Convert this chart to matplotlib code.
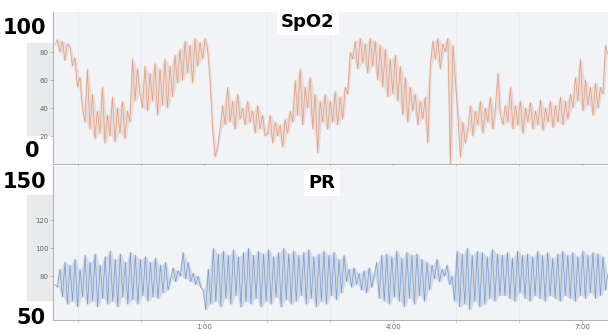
import matplotlib.pyplot as plt
from matplotlib.patches import Rectangle
import numpy as np

# SpO2 trace (%)
spo2 = [85, 89, 80, 88, 74, 86,
        84, 70, 76, 55, 62, 40,
        30, 68, 25, 50, 18, 38, 22, 55, 15, 35, 20, 48, 16, 40, 22, 45, 18, 38,
        30, 75, 45, 68, 50,
        40, 70, 38, 65, 45, 72, 35, 68, 42, 75, 40, 70, 48, 78,
        58, 82, 60, 88, 65, 85, 58, 90, 70, 87, 75, 90, 82,
        60, 25, 5, 12,
        25, 42, 28, 55, 30, 45, 25, 50, 32, 40, 28, 45, 30, 38, 22, 42, 25, 35, 20,
        22, 35, 15, 30, 20, 28, 12, 32, 22, 38,
        30, 60, 35, 68, 28, 55, 40, 62, 25, 50, 8, 45, 30, 50, 25, 45, 30, 52, 28, 48, 32, 55,
        50, 80,
        75, 88, 68, 90, 72, 86, 65, 90, 70, 88, 60, 85,
        55, 82, 48, 75, 50, 78, 45, 70,
        35, 62, 30, 55, 38, 50, 28, 45, 32, 48, 15,
        70, 88, 75, 90, 68, 86, 80, 90, 0, 85,
        60, 35, 5, 30, 15,
        25, 42, 20, 38, 28, 45, 22, 40, 30, 48, 25, 40, 65, 35, 28, 42,
        30, 55, 25, 42, 28, 45, 22, 40, 30, 44, 25, 38, 28, 46, 24, 40, 30, 45, 26, 42,
        30, 48, 28, 45, 32, 50,
        40, 62, 45, 75, 38, 60, 42, 55, 35, 58, 40, 55,
        50, 85, 78]

# pulse rate trace (bpm)
pr = [74, 72, 85, 65,
      90, 60, 88, 62, 92, 58, 85, 65, 95, 60, 90, 62, 96, 58, 88, 64, 94, 60, 98, 62,
      92, 58, 96, 65, 90, 60, 97, 63, 95, 60, 92, 66, 94, 62, 90, 65, 93, 64, 88, 68, 90, 70,
      78, 86, 76, 84, 80, 97, 78, 90, 76, 82, 74, 80, 72, 70,
      56, 85, 60,
      100, 62, 96, 58, 98, 64, 95, 60, 99, 66, 94, 58, 97, 62, 100, 60, 95, 64, 98, 58,
      96, 62, 99, 60, 94, 65, 97, 58, 100, 63, 96, 60, 98, 62, 95, 66, 97, 60, 99, 64,
      94, 58, 96, 62, 98, 60, 95, 66, 97, 63, 92, 68, 95,
      76, 85, 72, 86, 74, 82, 70, 84, 68, 86, 72, 80,
      90, 64, 95, 62, 96, 60, 94, 65, 98, 62, 93, 58, 97, 64, 95, 60, 96, 66, 92, 62, 90, 70,
      88, 78, 92, 76, 85, 80, 88, 74, 80, 62,
      98, 58, 96, 60, 100, 56, 95, 62, 98, 58, 97, 60, 94, 64, 99, 62, 96, 66,
      95, 66, 97, 64, 93, 62, 98, 68, 95, 64, 96, 62, 94, 66, 98, 64, 95, 62, 97, 66,
      93, 64, 96, 62, 98, 66, 95, 64, 97, 62, 94, 66, 98, 64, 95, 68, 97, 64, 96, 66,
      94, 70, 82]

t_start, t_end = -1.37, 7.41   # hours after midnight
hour_labels = [1, 4, 7]

bg = '#f1f3f6'
fig = plt.figure(figsize=(6.08, 3.34), dpi=100)

# grey strips behind the small tick labels
fig.add_artist(Rectangle((27/608, 1 - 135/334), 26/608, 92/334, transform=fig.transFigure,
                         color='#e9eaec', zorder=0))
fig.add_artist(Rectangle((27/608, 1 - 300/334), 26/608, 105/334, transform=fig.transFigure,
                         color='#e9eaec', zorder=0))

ax1 = fig.add_axes([53/608, 170/334, 555/608, 152/334])
ax2 = fig.add_axes([53/608, 14/334, 555/608, 154/334])


def draw_trace(ax, vals, color):
    v = np.array(vals, dtype=float)
    t = np.linspace(t_start, t_end, len(v))
    hi = np.maximum(v[:-1], v[1:])
    lo = np.minimum(v[:-1], v[1:])
    tm = (t[:-1] + t[1:]) / 2
    ax.fill_between(tm, lo, hi, color=color, alpha=0.25, lw=0)
    ax.plot(t, v, color=color, lw=0.5, alpha=0.85)


draw_trace(ax1, spo2, '#dd9478')
draw_trace(ax2, pr, '#6f8fc2')

ax1.set_ylim(0, 108.6)
ax1.set_yticks([20, 40, 60, 80])
ax2.set_ylim(48.6, 158.6)
ax2.set_yticks([80, 100, 120])

for ax in (ax1, ax2):
    ax.set_facecolor(bg)
    ax.set_xlim(-1.4, 7.41)
    ax.set_xticks(hour_labels)
    ax.set_xticks(range(-1, 8), minor=True)
    for s in ('top', 'right'):
        ax.spines[s].set_visible(False)
    for s in ('left', 'bottom'):
        ax.spines[s].set_color('#a4a6aa')
        ax.spines[s].set_linewidth(0.6)
    ax.tick_params(colors='#a4a6aa', labelcolor='#666666', labelsize=5, length=2,
                   width=0.5, pad=1)
    ax.tick_params(which='minor', length=1.5, width=0.5, colors='#a4a6aa')
    ax.set_axisbelow(True)
    ax.grid(axis='x', which='minor', color='#e6e9ee', lw=0.6)

ax1.set_xticklabels([])
ax2.set_xticklabels([f'{h}:00' for h in hour_labels])

# panel titles on white boxes
fig.text(308/608, 1 - 22/334, 'SpO2', ha='center', va='center', fontsize=13,
         fontweight='bold', bbox=dict(facecolor='white', edgecolor='none', pad=3))
fig.text(322/608, 1 - 183/334, 'PR', ha='center', va='center', fontsize=13,
         fontweight='bold', bbox=dict(facecolor='white', edgecolor='none', pad=3))

# big range labels
fig.text(46/608, 1 - 28/334, '100', ha='right', va='center', fontsize=15, fontweight='bold')
fig.text(40/608, 1 - 151/334, '0', ha='right', va='center', fontsize=15, fontweight='bold')
fig.text(46/608, 1 - 182/334, '150', ha='right', va='center', fontsize=15, fontweight='bold')
fig.text(46/608, 1 - 318/334, '50', ha='right', va='center', fontsize=15, fontweight='bold')

fig.savefig('out.png', dpi=100)
